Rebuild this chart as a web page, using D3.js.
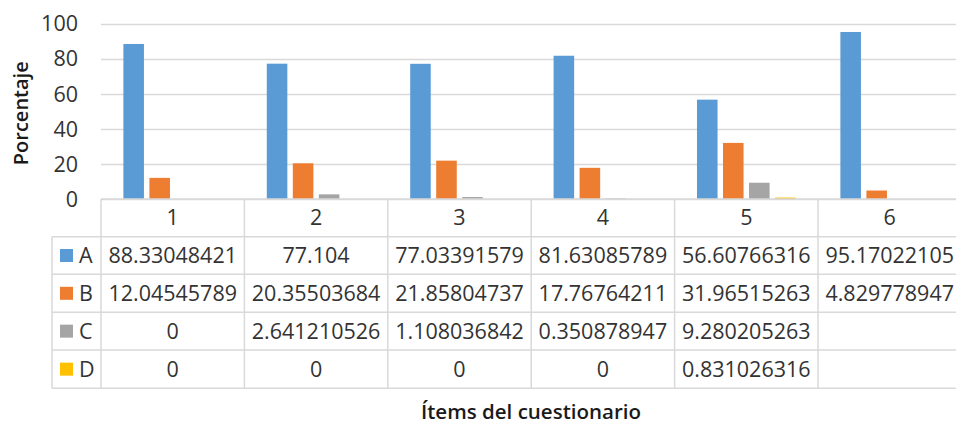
<!DOCTYPE html>
<html><head><meta charset="utf-8">
<script src="https://cdn.jsdelivr.net/npm/d3@7"></script>
<style>body{margin:0;background:#fff;overflow:hidden}</style>
</head><body>
<script>
const categories = ["1","2","3","4","5","6"];
const seriesNames = ["A","B","C","D"];
const seriesColors = ["#5B9BD5","#ED7D31","#A5A5A5","#FFC000"];
const valuesA = [88.33048421, 77.104, 77.03391579, 81.63085789, 56.60766316, 95.17022105];
const valuesB = [12.04545789, 20.35503684, 21.85804737, 17.76764211, 31.96515263, 4.829778947];
const valuesC = [0, 2.641210526, 1.108036842, 0.350878947, 9.280205263, null];
const valuesD = [0, 0, 0, 0, 0.831026316, null];
const yTicks = [0, 20, 40, 60, 80, 100];
const yLabel = "Porcentaje";
const xLabel = "Ítems del cuestionario";

const series = [valuesA, valuesB, valuesC, valuesD];
const W = 956, H = 426;
const font = "'Open Sans', sans-serif";
const grid = "#d9d9d9";
const txt = "#333333";
const fs = 21.5;

const svg = d3.select("body").append("svg").attr("width", W).attr("height", H);

const x0 = d3.scaleBand().domain(categories).range([101, 101 + 6 * 143.4]).padding(0);
const x1 = d3.scaleBand().domain(seriesNames).range([0, x0.bandwidth()]).paddingInner(0.21).paddingOuter(0.86);
const y = d3.scaleLinear().domain([0, 100]).range([199, 23.5]);

// gridlines
svg.append("g").selectAll("line").data(yTicks).join("line")
  .attr("x1", 101).attr("x2", W).attr("y1", d => Math.round(y(d)) + 0.5).attr("y2", d => Math.round(y(d)) + 0.5)
  .attr("stroke", grid).attr("stroke-width", 1.5);

// y axis labels
const yAxis = d3.axisLeft(y).tickValues(yTicks).tickSize(0).tickPadding(0);
const ya = svg.append("g").attr("transform", "translate(78,0)").call(yAxis);
ya.select(".domain").remove();
ya.selectAll("text").attr("font-family", font).attr("font-size", fs).attr("fill", txt).attr("dy", "0.34em");

// bars
const groups = svg.append("g").selectAll("g").data(categories).join("g")
  .attr("transform", d => `translate(${x0(d)},0)`);
groups.selectAll("rect").data((c, i) => seriesNames.map((s, j) => ({s, j, v: series[j][i]})))
  .join("rect")
  .attr("x", d => x1(d.s)).attr("width", x1.bandwidth())
  .attr("y", d => y(d.v || 0)).attr("height", d => y(0) - y(d.v || 0))
  .attr("fill", d => seriesColors[d.j]);

// table
const rowTops = [199, 236.7, 274.3, 312.3, 350, 388.3];
const tbl = svg.append("g");
tbl.append("line").attr("x1", 101).attr("x2", W).attr("y1", 199).attr("y2", 199).attr("stroke", grid).attr("stroke-width", 1.5);
rowTops.slice(1).forEach(t => {
  tbl.append("line").attr("x1", 52).attr("x2", W).attr("y1", t).attr("y2", t).attr("stroke", grid).attr("stroke-width", 1.5);
});
categories.forEach(c => {
  tbl.append("line").attr("x1", x0(c)).attr("x2", x0(c)).attr("y1", 199).attr("y2", 388.3).attr("stroke", grid).attr("stroke-width", 1.5);
});
tbl.append("line").attr("x1", 52).attr("x2", 52).attr("y1", 236.7).attr("y2", 388.3).attr("stroke", grid).attr("stroke-width", 1.5);

// header labels
tbl.selectAll("text.hdr").data(categories).join("text").attr("class", "hdr")
  .attr("x", d => x0(d) + x0.bandwidth() / 2).attr("y", (rowTops[0] + rowTops[1]) / 2)
  .attr("dy", "0.35em").attr("text-anchor", "middle")
  .attr("font-family", font).attr("font-size", fs).attr("fill", txt).text(d => d);

// data rows
seriesNames.forEach((s, j) => {
  const cy = (rowTops[j + 1] + rowTops[j + 2]) / 2;
  tbl.append("rect").attr("x", 60).attr("y", cy - 6.5).attr("width", 13).attr("height", 13).attr("fill", seriesColors[j]);
  tbl.append("text").attr("x", 79).attr("y", cy).attr("dy", "0.35em")
    .attr("font-family", font).attr("font-size", fs).attr("fill", txt).text(s);
  tbl.selectAll("text.v" + j).data(series[j]).join("text").attr("class", "v" + j)
    .attr("x", (d, i) => x0(categories[i]) + x0.bandwidth() / 2).attr("y", cy).attr("dy", "0.35em")
    .attr("text-anchor", "middle").attr("font-family", font).attr("font-size", fs).attr("fill", txt)
    .text(d => d === null ? "" : String(d));
});

// axis titles
svg.append("text").attr("transform", `translate(21,${y(50) + 2}) rotate(-90)`)
  .attr("text-anchor", "middle").attr("dy", "0.35em")
  .attr("font-family", font).attr("font-size", 20).attr("font-weight", 600).attr("fill", "#1a1a1a").text(yLabel);
svg.append("text").attr("x", 531).attr("y", 412).attr("dy", "0.35em").attr("text-anchor", "middle")
  .attr("font-family", font).attr("font-size", 20.5).attr("font-weight", 600).attr("fill", "#1a1a1a").text(xLabel);
</script>
</body></html>
